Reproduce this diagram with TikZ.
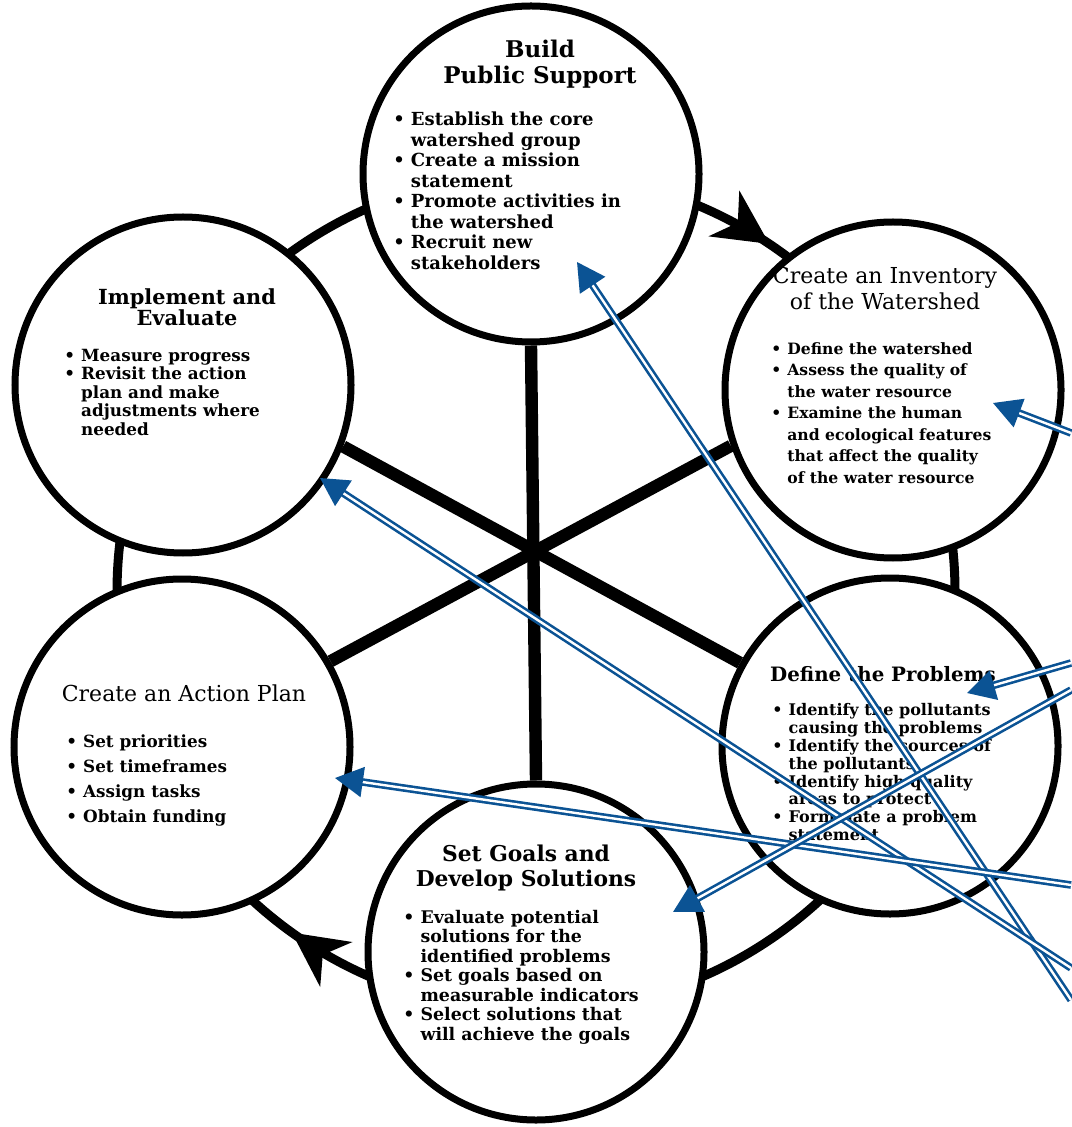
\documentclass[tikz,border=0pt]{standalone}
\usepackage{fontspec}
\setmainfont{DejaVu Serif}
\usetikzlibrary{arrows.meta, positioning, backgrounds, decorations.markings}
\definecolor{wsblue}{HTML}{0B5394}

\begin{document}
\begin{tikzpicture}[
  x=0.5pt, y=-0.5pt,
  stage/.style={circle, draw, line width=3.5pt, fill=white,
                minimum size=168pt, inner sep=0pt},
  ttl/.style={align=center, inner sep=0pt},
  lst/.style={anchor=north west, inner sep=0pt},
  spoke/.style={line width=6.2pt},
  ring/.style={line width=4.5pt},
  bigtip/.tip={Stealth[length=27pt, width=27pt, inset=8pt]},
  note/.style={draw=wsblue, double=white, line width=1.3pt,
               double distance=1.2pt, -{Triangle[length=14pt, width=15pt]}}
]
\useasboundingbox (0,0) rectangle (1071,1127);

%% ─── the six steps ─────────────────────────────────────────────────────────
\node[stage] (bp)   at (531,174) {};
\node[stage] (inv)  at (893,390) {};
\node[stage] (prob) at (890,746) {};
\node[stage] (goal) at (536,952) {};
\node[stage] (plan) at (182,747) {};
\node[stage] (impl) at (183,385) {};

%% ─── ring and spokes ───────────────────────────────────────────────────────
\coordinate (hub) at (536,592);
\begin{scope}[on background layer]
  \draw[ring, postaction={decorate}, decoration={markings,
        mark=at position 0.349 with {\arrow{bigtip}},
        mark=at position 0.844 with {\arrow{bigtip}}}]
    (hub) circle (419);
  \draw[spoke] (bp.south) -- (goal.north);
  \draw[spoke] (impl.-21) -- (prob.151);
  \draw[spoke] (inv.199) -- (plan.30);
\end{scope}

%% ─── (1) Build Public Support ──────────────────────────────────────────────
\node[ttl, font=\fontsize{11.5}{13}\selectfont\bfseries] (bp_t) at (540,64)
  {Build\\Public Support};
\node[lst, font=\fontsize{9}{10.25}\selectfont\bfseries] (bp_l) at (393,111)
  {\begin{tabular}{@{}l@{\hspace{3pt}}l@{}}
   \textbullet & Establish the core\\ & watershed group\\
   \textbullet & Create a mission\\ & statement\\
   \textbullet & Promote activities in\\ & the watershed\\
   \textbullet & Recruit new\\ & stakeholders
   \end{tabular}};

%% ─── (2) Inventory ─────────────────────────────────────────────────────────
\node[ttl, font=\fontsize{11}{13}\selectfont] (inv_t) at (885,288)
  {Create an Inventory\\of the Watershed};
\node[lst, font=\fontsize{7.8}{10.75}\selectfont\bfseries] (inv_l) at (771,339)
  {\begin{tabular}{@{}l@{\hspace{3pt}}l@{}}
   \textbullet & Define the watershed\\
   \textbullet & Assess the quality of\\ & the water resource\\
   \textbullet & Examine the human\\ & and ecological features\\
   & that affect the quality\\ & of the water resource
   \end{tabular}};

%% ─── (3) Define the Problems ───────────────────────────────────────────────
\node[ttl, font=\fontsize{9.9}{12}\selectfont\bfseries] (prob_t) at (883,674)
  {Define the Problems};
\node[lst, font=\fontsize{8}{8.9}\selectfont\bfseries] (prob_l) at (772,703)
  {\begin{tabular}{@{}l@{\hspace{3pt}}l@{}}
   \textbullet & Identify the pollutants\\ & causing the problems\\
   \textbullet & Identify the sources of\\ & the pollutants\\
   \textbullet & Identify high quality\\ & areas to protect\\
   \textbullet & Formulate a problem\\ & statement
   \end{tabular}};

%% ─── (4) Set Goals ─────────────────────────────────────────────────────────
\node[ttl, font=\fontsize{10.9}{12.5}\selectfont\bfseries] (goal_t) at (526,868)
  {Set Goals and\\Develop Solutions};
\node[lst, font=\fontsize{8.7}{9.75}\selectfont\bfseries] (goal_l) at (403,909)
  {\begin{tabular}{@{}l@{\hspace{3pt}}l@{}}
   \textbullet & Evaluate potential\\ & solutions for the\\ & identified problems\\
   \textbullet & Set goals based on\\ & measurable indicators\\
   \textbullet & Select solutions that\\ & will achieve the goals
   \end{tabular}};

%% ─── (5) Action Plan ───────────────────────────────────────────────────────
\node[ttl, font=\fontsize{11}{13}\selectfont] (plan_t) at (184,693)
  {Create an Action Plan};
\node[lst, font=\fontsize{8.4}{12.6}\selectfont\bfseries] (plan_l) at (66,729)
  {\begin{tabular}{@{}l@{\hspace{3pt}}l@{}}
   \textbullet & Set priorities\\
   \textbullet & Set timeframes\\
   \textbullet & Assign tasks\\
   \textbullet & Obtain funding
   \end{tabular}};

%% ─── (6) Implement ─────────────────────────────────────────────────────────
\node[ttl, font=\fontsize{10.4}{10.5}\selectfont\bfseries] (impl_t) at (187,307)
  {Implement and\\Evaluate};
\node[lst, font=\fontsize{8.4}{9.25}\selectfont\bfseries] (impl_l) at (64,348)
  {\begin{tabular}{@{}l@{\hspace{3pt}}l@{}}
   \textbullet & Measure progress\\
   \textbullet & Revisit the action\\ & plan and make\\
   & adjustments where\\ & needed
   \end{tabular}};

%% ─── blue pointers ─────────────────────────────────────────────────────────
\coordinate (in_bp)   at (1071,1000); \coordinate (to_bp)   at (577,262);
\coordinate (in_impl) at (1071,968);  \coordinate (to_impl) at (320,478);
\coordinate (in_plan) at (1071,885);  \coordinate (to_plan) at (335,778);
\coordinate (in_inv)  at (1071,433);  \coordinate (to_inv)  at (993,403);
\coordinate (in_prob) at (1071,663);  \coordinate (to_prob) at (967,693);
\coordinate (in_goal) at (1071,690);  \coordinate (to_goal) at (673,912);

\foreach \a/\b in {in_bp/to_bp, in_impl/to_impl, in_plan/to_plan,
                   in_inv/to_inv, in_prob/to_prob, in_goal/to_goal}
  \draw[note] (\a) -- (\b);

\end{tikzpicture}
\end{document}
